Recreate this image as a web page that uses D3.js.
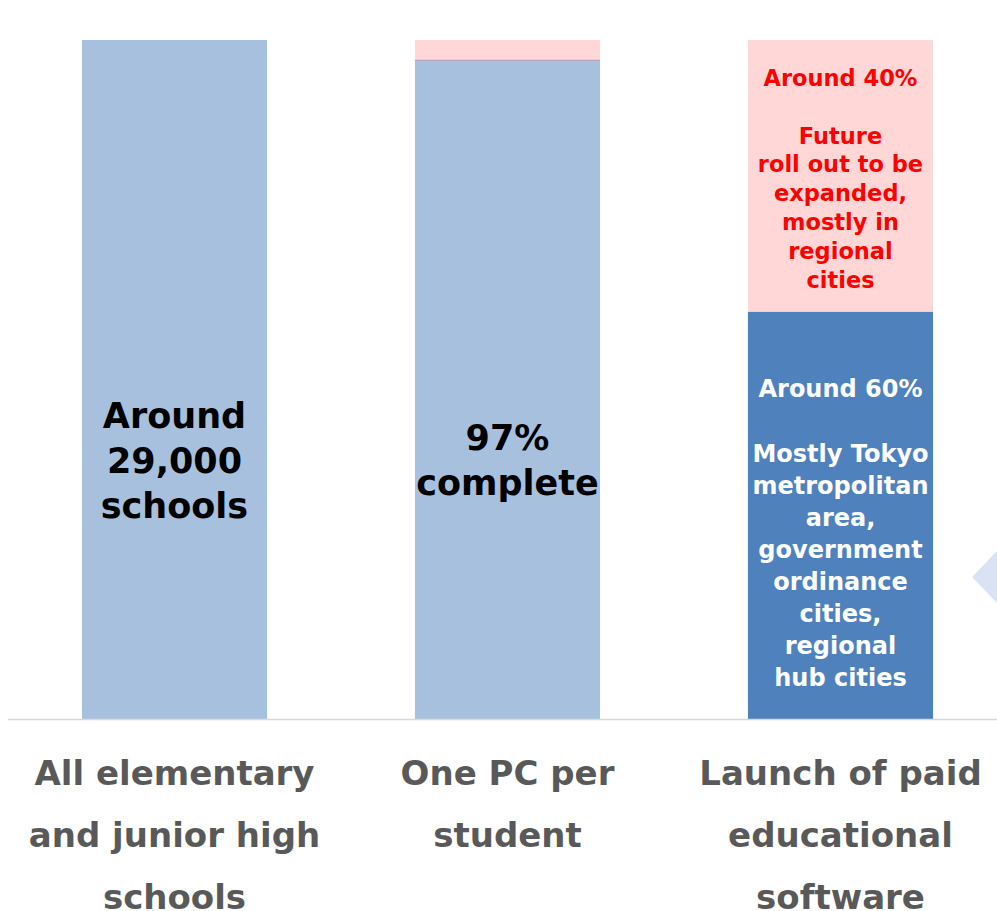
<!DOCTYPE html>
<html>
<head>
<meta charset="utf-8">
<script src="https://cdn.jsdelivr.net/npm/d3@7"></script>
<style>
  html, body { margin: 0; padding: 0; background: #ffffff; }
  svg { display: block; }
  text { font-family: "DejaVu Sans", Verdana, sans-serif; font-weight: bold; }
</style>
</head>
<body>
<svg id="chart" width="997" height="911"></svg>
<script>
// Categories (x axis), each wrapped onto several lines
const categories = ["schools", "pc", "software"];
const categoryLines = [
  ["All elementary", "and junior high", "schools"],
  ["One PC per", "student"],
  ["Launch of paid", "educational", "software"]
];

// Share reached so far, and remaining share (percent of the full bar)
const doneShare = [100, 97, 60];
const remainingShare = [0, 3, 40];

// Text written inside the finished part of each bar
const doneLabels = [
  ["Around", "29,000", "schools"],
  ["97%", "complete"],
  ["Around 60%", "", "Mostly Tokyo", "metropolitan", "area,", "government", "ordinance", "cities,", "regional", "hub cities"]
];
// Text written inside the remaining part of each bar
const remainingLabels = [
  [],
  [],
  ["Around 40%", "", "Future", "roll out to be", "expanded,", "mostly in", "regional", "cities"]
];

const W = 997, H = 911;
const svg = d3.select("#chart");

const x = d3.scaleBand()
  .domain(categories)
  .range([8, 1007])
  .paddingInner(0.444)
  .paddingOuter(0.222);

const y = d3.scaleLinear().domain([0, 100]).range([719, 40]);

const doneColor = ["#a7c0de", "#a7c0de", "#4f81bd"];
const remainColor = "#ffd7d7";

// decorative arrow head peeking in at the right edge
svg.append("path")
  .attr("d", `M972,577 L1000,548 L1000,606 Z`)
  .attr("fill", "#dae3f3");

const bars = svg.selectAll("g.bar")
  .data(categories.map((c, i) => ({ c, i, done: doneShare[i], rest: remainingShare[i] })))
  .join("g").attr("class", "bar");

// finished part
bars.append("rect")
  .attr("x", d => x(d.c))
  .attr("width", x.bandwidth())
  .attr("y", d => y(d.done))
  .attr("height", d => y(0) - y(d.done))
  .attr("fill", d => doneColor[d.i]);

// remaining part, stacked on top
bars.filter(d => d.rest > 0).append("rect")
  .attr("x", d => x(d.c))
  .attr("width", x.bandwidth())
  .attr("y", d => y(d.done + d.rest))
  .attr("height", d => y(d.done) - y(d.done + d.rest))
  .attr("fill", remainColor);

// thin seam where the two light segments meet
bars.filter(d => d.rest > 0 && d.rest < 10).append("line")
  .attr("x1", d => x(d.c))
  .attr("x2", d => x(d.c) + x.bandwidth())
  .attr("y1", d => y(d.done))
  .attr("y2", d => y(d.done))
  .attr("stroke", "#b3a6c6")
  .attr("stroke-width", 1.2);

// multi-line centred text helper
function block(cx, cy, lines, step, size, color) {
  const t = svg.append("text")
    .attr("text-anchor", "middle")
    .attr("font-size", size)
    .attr("fill", color);
  const first = cy - (lines.length - 1) * step / 2;
  lines.forEach((ln, k) => {
    t.append("tspan")
      .attr("x", cx)
      .attr("y", first + k * step)
      .attr("dy", "0.36em")
      .text(ln);
  });
}

categories.forEach((c, i) => {
  const cx = x(c) + x.bandwidth() / 2;
  if (i < 2) {
    block(cx, 460, doneLabels[i], 45, 35, "#000000");
  } else {
    const mid = (y(doneShare[i]) + y(0)) / 2 + 18;
    block(cx, mid, doneLabels[i], 32.1, 24, "#ffffff");
    const top = y(doneShare[i] + remainingShare[i]);
    const midR = (top + y(doneShare[i])) / 2 + 3;
    block(cx, midR, remainingLabels[i], 28.86, 22.5, "#ff0000");
  }
});

// baseline
svg.append("line")
  .attr("x1", 8).attr("x2", W)
  .attr("y1", y(0) + 0.5).attr("y2", y(0) + 0.5)
  .attr("stroke", "#d9d9d9").attr("stroke-width", 1.5);

// category labels
categories.forEach((c, i) => {
  const cx = x(c) + x.bandwidth() / 2;
  const lines = categoryLines[i];
  const t = svg.append("text")
    .attr("text-anchor", "middle")
    .attr("font-size", 34)
    .attr("fill", "#595959");
  lines.forEach((ln, k) => {
    t.append("tspan").attr("x", cx).attr("y", 773 + k * 62).attr("dy", "0.36em").text(ln);
  });
});
</script>
</body>
</html>
